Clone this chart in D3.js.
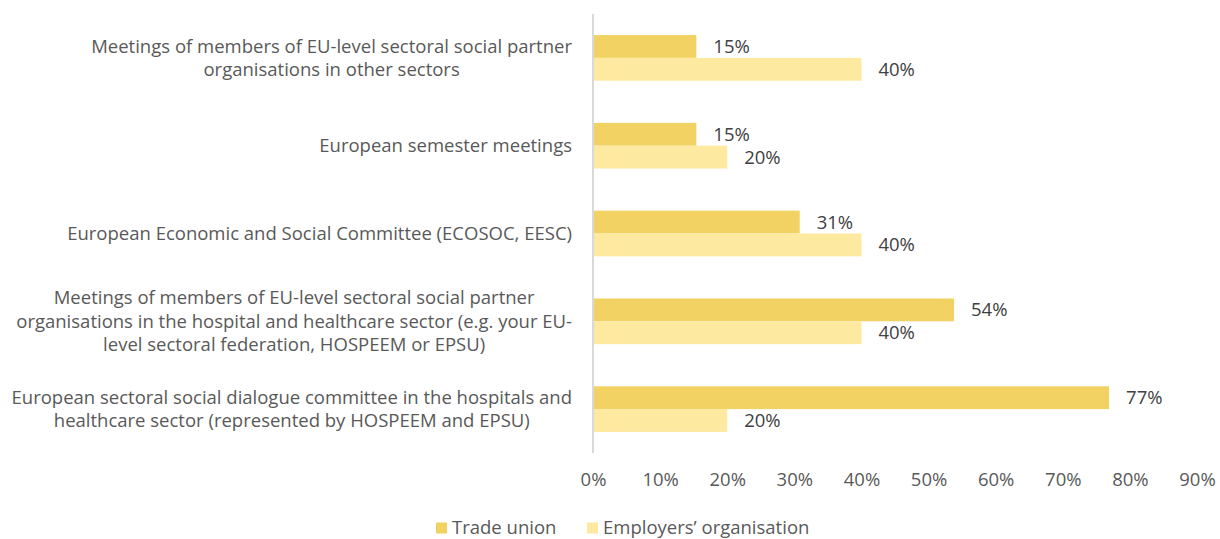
<!DOCTYPE html>
<html>
<head>
<meta charset="utf-8">
<script src="https://cdn.jsdelivr.net/npm/d3@7"></script>
<style>
  body { margin: 0; background: #fff; }
  text { font-family: "Open Sans", "Noto Sans", sans-serif; }
</style>
</head>
<body>
<div id="chart"></div>
<script>
// Data (shares of respondents)
var categories = [
  ["Meetings of members of EU-level sectoral social partner", "organisations in other sectors"],
  ["European semester meetings"],
  ["European Economic and Social Committee (ECOSOC, EESC)"],
  ["Meetings of members of EU-level sectoral social partner", "organisations in the hospital and healthcare sector (e.g. your EU-", "level sectoral federation, HOSPEEM or EPSU)"],
  ["European sectoral social dialogue committee in the hospitals and", "healthcare sector (represented by HOSPEEM and EPSU)"]
];
var tradeUnion = [0.154, 0.154, 0.308, 0.538, 0.769];
var employers = [0.40, 0.20, 0.40, 0.40, 0.20];
var seriesNames = ["Trade union", "Employers\u2019 organisation"];
var seriesColors = ["#F3D264", "#FEE9A1"];
var xTicks = [0, 0.1, 0.2, 0.3, 0.4, 0.5, 0.6, 0.7, 0.8, 0.9];

var width = 1220, height = 539;
var margin = { top: 14, right: 23, bottom: 86, left: 593 };
var plotW = width - margin.left - margin.right;
var plotH = height - margin.top - margin.bottom;
var fontSize = 18.5;

var svg = d3.select("#chart")
  .append("svg")
  .attr("width", width)
  .attr("height", height);

var g = svg.append("g")
  .attr("transform", "translate(" + margin.left + "," + margin.top + ")");

var x = d3.scaleLinear().domain([0, 0.9]).range([0, plotW]);

var y = d3.scaleBand()
  .domain(d3.range(categories.length))
  .range([0, plotH])
  .paddingInner(0.48)
  .paddingOuter(0.24);

var sub = d3.scaleBand()
  .domain([0, 1])
  .range([0, y.bandwidth()]);

var rows = categories.map(function(c, i) {
  return { i: i, values: [tradeUnion[i], employers[i]] };
});

var fmt = d3.format(".0%");

// bars
var row = g.selectAll(".row")
  .data(rows)
  .enter().append("g")
  .attr("class", "row")
  .attr("transform", function(d) { return "translate(0," + y(d.i) + ")"; });

row.selectAll("rect")
  .data(function(d) { return d.values; })
  .enter().append("rect")
  .attr("x", 0)
  .attr("y", function(d, j) { return sub(j); })
  .attr("width", function(d) { return x(d); })
  .attr("height", sub.bandwidth())
  .attr("fill", function(d, j) { return seriesColors[j]; });

row.selectAll("text.val")
  .data(function(d) { return d.values; })
  .enter().append("text")
  .attr("class", "val")
  .attr("x", function(d) { return x(d) + 17; })
  .attr("y", function(d, j) { return sub(j) + sub.bandwidth() / 2; })
  .attr("dy", "0.35em")
  .style("font-size", fontSize + "px")
  .style("fill", "#404040")
  .text(function(d) { return fmt(d); });

// vertical axis line
g.append("line")
  .attr("x1", 0).attr("x2", 0)
  .attr("y1", 0).attr("y2", plotH)
  .style("stroke", "#d9d9d9")
  .style("stroke-width", 2);

// category labels: centred block, right edge near the axis
var lineH = 23.5;
categories.forEach(function(lines, i) {
  var t = svg.append("text")
    .attr("text-anchor", "middle")
    .style("font-size", fontSize + "px")
    .style("fill", "#595959");
  lines.forEach(function(s, k) {
    t.append("tspan")
      .attr("x", 0)
      .attr("y", margin.top + y(i) + y.bandwidth() / 2 + (k - (lines.length - 1) / 2) * lineH)
      .attr("dy", "0.35em")
      .text(s);
  });
  var maxW = d3.max(t.selectAll("tspan").nodes(), function(n) { return n.getComputedTextLength(); });
  t.selectAll("tspan").attr("x", margin.left - 21 - maxW / 2);
});

// x tick labels
var xAxis = d3.axisBottom(x).tickValues(xTicks).tickFormat(fmt).tickSize(0).tickPadding(20);
var ax = g.append("g")
  .attr("transform", "translate(0," + plotH + ")")
  .call(xAxis);
ax.select(".domain").remove();
ax.selectAll("text")
  .style("font-family", "'Open Sans', 'Noto Sans', sans-serif")
  .style("font-size", fontSize + "px")
  .style("fill", "#595959");

// legend
var legend = svg.append("g").attr("transform", "translate(436,528)");
var lx = [0, 151];
seriesNames.forEach(function(name, j) {
  var lg = legend.append("g").attr("transform", "translate(" + lx[j] + ",0)");
  lg.append("rect")
    .attr("x", 0).attr("y", -5.5)
    .attr("width", 11).attr("height", 11)
    .attr("fill", seriesColors[j]);
  lg.append("text")
    .attr("x", 16).attr("y", 0)
    .attr("dy", "0.35em")
    .style("font-size", fontSize + "px")
    .style("fill", "#595959")
    .text(name);
});
</script>
</body>
</html>
